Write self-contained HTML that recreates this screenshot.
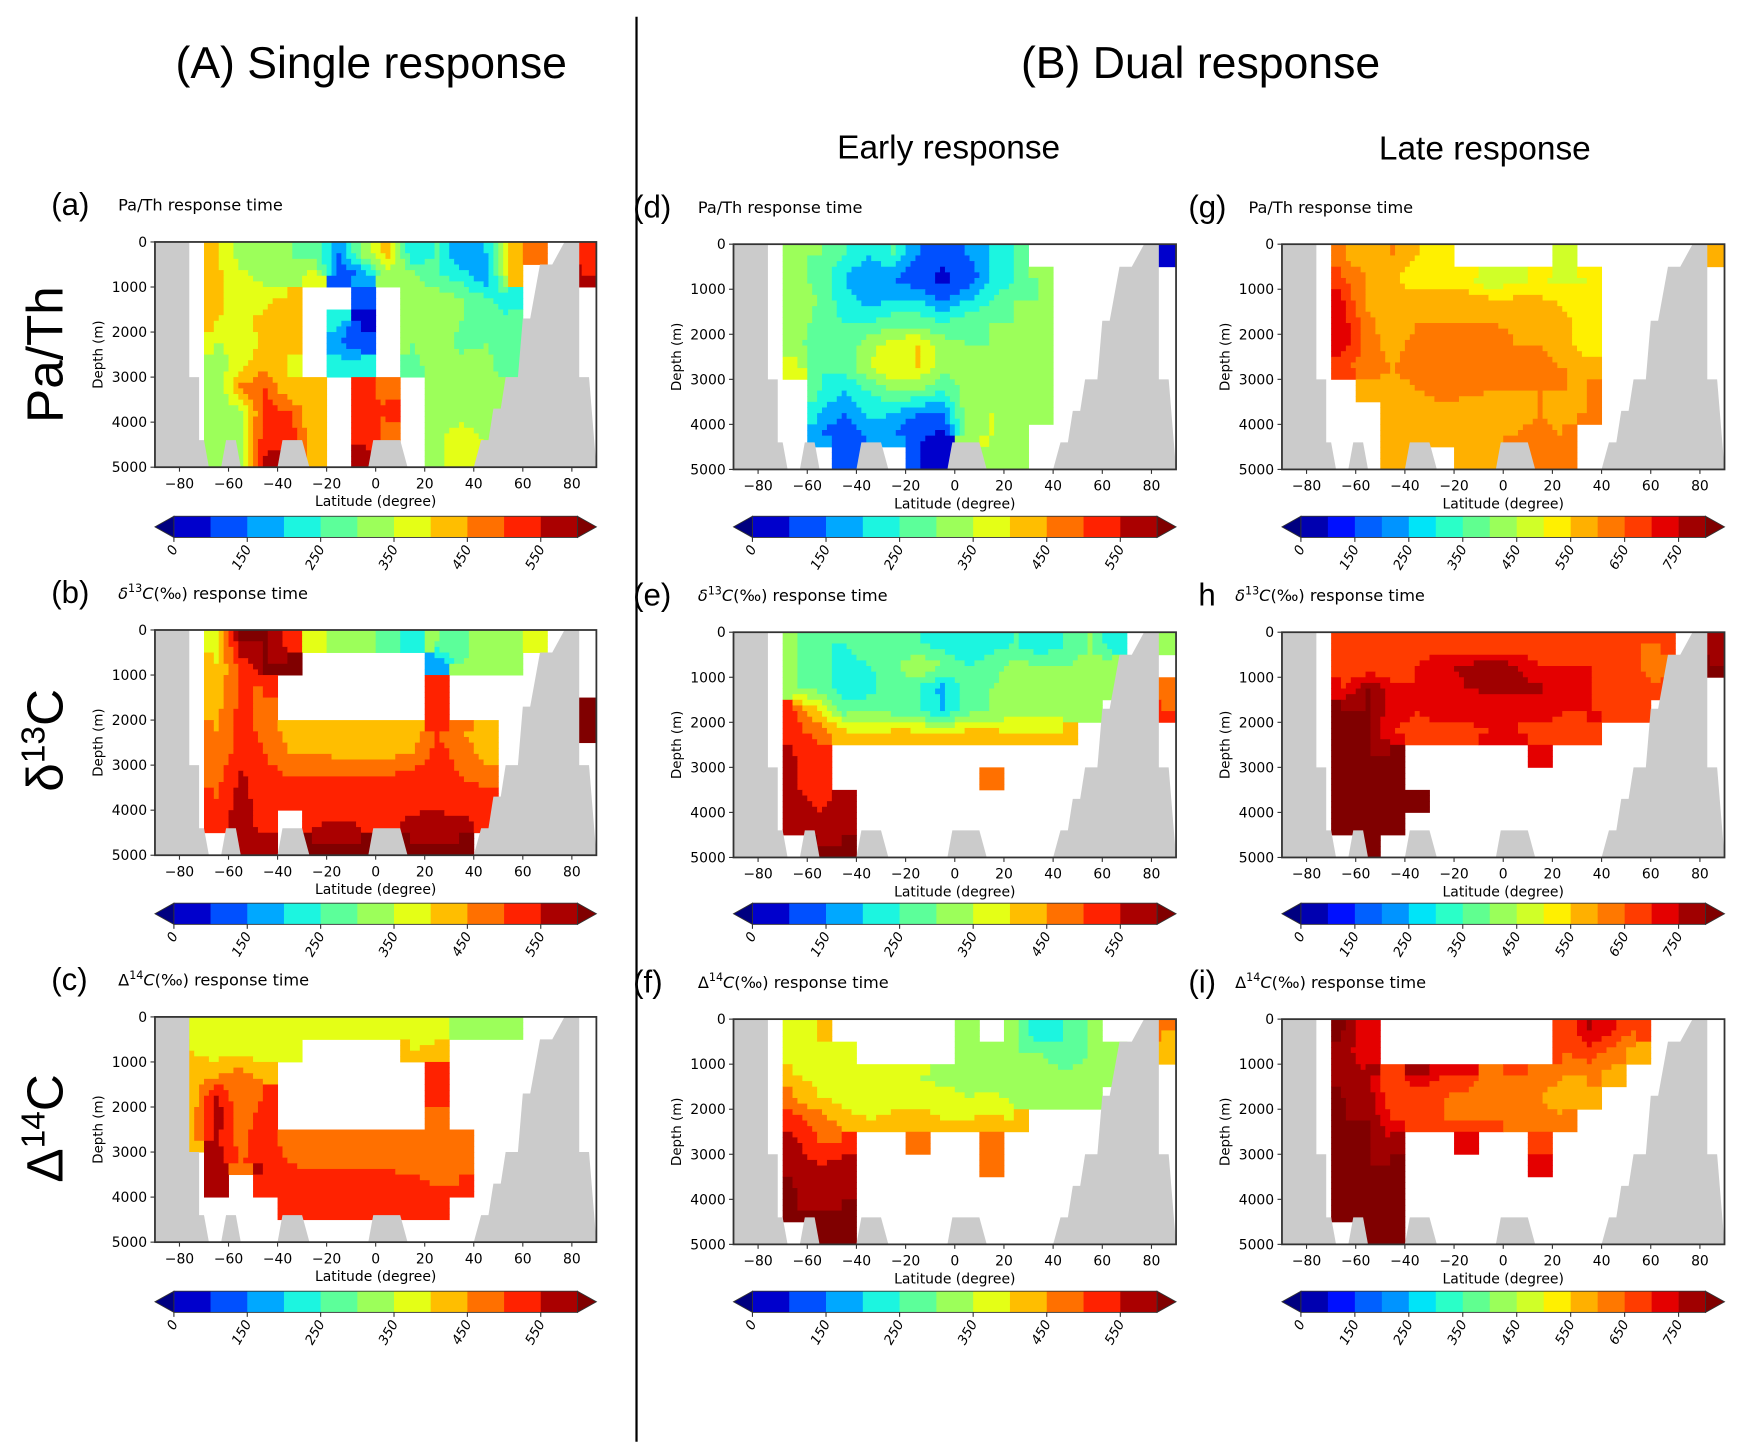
<!DOCTYPE html>
<html><head><meta charset="utf-8"><style>
html,body{margin:0;padding:0;background:#fff}
svg{display:block;font-family:"Liberation Sans","DejaVu Sans",sans-serif}
</style></head><body>
<svg id="fig" width="1739" height="1454" viewBox="0 0 1560 1304" preserveAspectRatio="none" xmlns="http://www.w3.org/2000/svg">
<rect width="1560" height="1304" fill="#fff"/>
<line x1="571" y1="15" x2="571" y2="1293" stroke="#000" stroke-width="2"/>
<text x="333" y="70" font-size="40" text-anchor="middle">(A) Single response</text>
<text x="1077" y="70" font-size="40" text-anchor="middle">(B) Dual response</text>
<text x="851" y="142" font-size="30" text-anchor="middle">Early response</text>
<text x="1332" y="143" font-size="30" text-anchor="middle">Late response</text>
<text transform="translate(56,318) rotate(-90)" font-size="46" text-anchor="middle">Pa/Th</text>
<text transform="translate(56,664) rotate(-90)" font-size="46" text-anchor="middle">δ<tspan font-size="30" dy="-16">13</tspan><tspan dy="16">C</tspan></text>
<text transform="translate(56,1012) rotate(-90)" font-size="46" text-anchor="middle">Δ<tspan font-size="30" dy="-16">14</tspan><tspan dy="16">C</tspan></text>
<g id="panels"></g>
</svg>
<script>
const latTicks=[-80,-60,-40,-20,0,20,40,60,80];
const depthTicks=[0,1000,2000,3000,4000,5000];
const levels550=[0,75,150,200,250,300,350,400,450,500,550,600];
const colors550=['#0000cc','#0050ff','#00a8ff','#1cf5e0','#5cff9a','#9cff5a','#e4ff16','#ffbe00','#ff7000','#ff2200','#aa0000'];
const ticks550=[0,150,250,350,450,550];
const levels750=[0,75,150,200,250,300,350,400,450,500,550,600,650,700,750,800];
const colors750=['#0000b0','#0010ff','#0060ff','#0094ff','#00e4f8','#2affc8','#60ff90','#9aff5a','#d0ff28','#fff000','#ffb000','#ff7800','#ff3c00','#e40000','#a00000'];
const ticks750=[0,150,250,350,450,550,650,750];
const W=-1;
const dataA=[[W,W,400,330,300,300,280,150,330,420,200,250,150,200,420,450,W,520],[W,W,420,360,330,300,380,100,150,330,320,260,220,150,400,W,W,550],[W,W,420,370,380,420,W,W,100,W,320,330,300,260,220,W,W,W],[W,W,400,380,420,440,W,220,60,W,320,340,300,260,260,W,W,W],[W,W,350,360,420,410,W,150,120,W,300,330,280,300,270,W,W,W],[W,W,320,380,440,390,W,230,230,W,280,330,330,320,250,W,W,W],[W,W,300,460,500,400,400,W,520,470,W,330,340,330,320,W,W,W],[W,W,300,340,520,500,400,W,520,500,W,330,320,330,320,W,W,W],[W,W,320,330,540,530,400,W,530,480,W,340,370,340,320,W,W,W],[W,W,320,330,550,560,400,W,580,480,W,340,380,360,330,W,W,W]];
const dataB=[[W,W,380,600,600,520,380,330,300,250,200,300,280,330,300,350,W,W],[W,W,400,520,600,600,W,W,W,W,W,150,300,320,330,W,W,W],[W,W,420,500,500,W,W,W,W,W,W,500,W,W,W,W,W,W],[W,W,430,520,480,W,W,W,W,W,W,520,W,W,W,W,W,600],[W,W,450,530,480,430,420,420,420,420,420,500,450,420,W,W,W,600],[W,W,450,530,500,450,450,440,440,440,450,520,480,430,W,W,W,W],[W,W,480,560,520,500,500,500,500,500,520,530,500,480,W,W,W,W],[W,W,500,570,520,530,520,520,520,520,530,540,520,520,W,W,W,W],[W,W,520,580,520,W,540,550,540,540,560,560,560,540,W,W,W,W],[W,W,W,580,560,W,600,600,600,W,600,600,600,W,W,W,W,W]];
const dataC=[[W,380,380,380,370,360,360,360,350,360,350,350,330,320,330,W,W,W],[W,400,380,380,370,380,W,W,W,W,400,430,W,W,W,W,W,W],[W,410,430,470,420,W,W,W,W,W,W,520,W,W,W,W,W,W],[W,420,560,450,500,W,W,W,W,W,W,500,W,W,W,W,W,W],[W,420,580,470,530,W,W,W,W,W,W,470,W,W,W,W,W,W],[W,430,560,480,540,460,470,480,480,480,470,460,450,W,W,W,W,W],[W,W,580,490,550,500,490,490,490,490,490,480,480,W,W,W,W,W],[W,W,560,W,540,520,520,520,520,520,510,500,500,W,W,W,W,W],[W,W,W,W,W,520,530,530,530,530,520,520,W,W,W,W,W,W],[W,W,W,W,W,W,W,W,W,W,W,W,W,W,W,W,W,W]];
const dataD=[[W,W,300,300,250,200,250,150,100,150,200,250,W,W,W,W,W,30],[W,W,320,280,200,150,150,100,50,100,200,250,300,W,W,W,W,W],[W,W,320,300,220,180,200,200,150,200,250,300,300,W,W,W,W,W],[W,W,330,280,250,250,280,280,250,280,300,300,330,W,W,W,W,W],[W,W,320,260,260,330,380,400,330,300,300,300,320,W,W,W,W,W],[W,W,380,250,260,350,400,400,320,300,320,300,300,W,W,W,W,W],[W,W,W,250,200,250,300,300,250,330,330,300,300,W,W,W,W,W],[W,W,W,200,150,220,200,150,150,330,350,320,320,W,W,W,W,W],[W,W,W,150,100,160,150,80,60,330,350,330,W,W,W,W,W,W],[W,W,W,W,100,150,W,80,30,W,330,330,W,W,W,W,W,W]];
const dataE=[[W,W,300,250,250,280,250,250,230,200,230,250,200,250,300,200,W,330],[W,W,300,270,230,250,280,350,300,250,280,320,300,300,320,330,W,W],[W,W,300,280,230,220,300,250,180,280,300,330,330,330,330,330,W,450],[W,W,500,400,280,300,280,250,200,280,300,330,330,330,330,W,W,500],[W,W,520,480,420,400,420,420,400,420,420,400,400,400,W,W,W,W],[W,W,550,520,W,W,W,W,W,W,W,W,W,W,W,W,W,W],[W,W,550,530,W,W,W,W,W,W,450,W,W,W,W,W,W,W],[W,W,560,540,560,W,W,W,W,W,W,W,W,W,W,W,W,W],[W,W,580,560,580,W,W,W,W,W,W,W,W,W,W,W,W,W],[W,W,W,600,600,W,W,W,W,W,W,W,W,W,W,W,W,W]];
const dataF=[[W,W,380,400,W,W,W,W,W,300,W,300,200,250,300,W,W,450],[W,W,380,380,380,W,W,W,W,300,320,300,300,250,300,300,W,420],[W,W,400,380,370,350,350,350,320,330,330,320,320,320,320,320,W,W],[W,W,450,400,380,370,370,380,380,350,360,330,330,330,330,W,W,W],[W,W,520,480,420,400,420,420,400,400,420,400,W,W,W,W,W,W],[W,W,560,500,500,W,W,450,W,W,450,W,W,W,W,W,W,W],[W,W,580,550,580,W,W,W,W,W,450,W,W,W,W,W,W,W],[W,W,600,560,580,W,W,W,W,W,W,W,W,W,W,W,W,W],[W,W,600,600,600,W,W,W,W,W,W,W,W,W,W,W,W,W],[W,W,W,600,600,W,W,W,W,W,W,W,W,W,W,W,W,W]];
const dataG=[[W,W,600,550,600,550,500,W,W,W,W,480,W,W,W,W,W,580],[W,W,650,600,560,520,500,500,450,480,500,480,500,W,W,W,W,W],[W,W,700,580,560,580,580,580,560,560,560,540,520,W,W,W,W,W],[W,W,720,620,560,600,600,600,600,580,580,560,520,W,W,W,W,W],[W,W,720,620,580,620,620,640,650,600,600,560,520,W,W,W,W,W],[W,W,660,620,600,620,650,650,640,620,620,600,580,W,W,W,W,W],[W,W,W,580,580,600,620,620,600,600,600,600,600,W,W,W,W,W],[W,W,W,W,580,560,580,560,560,580,600,560,600,W,W,W,W,W],[W,W,W,W,560,560,560,580,560,600,620,600,W,W,W,W,W,W],[W,W,W,W,560,550,W,560,560,W,620,620,W,W,W,W,W,W]];
const dataH=[[W,W,650,650,650,650,650,650,650,650,650,650,650,650,650,650,W,750],[W,W,650,650,650,700,750,760,780,760,700,700,700,700,650,600,W,800],[W,W,700,800,720,700,700,750,760,760,760,700,700,680,680,650,W,W],[W,W,800,800,720,700,720,720,720,700,720,700,700,680,650,W,W,W],[W,W,800,800,700,680,680,680,700,700,680,680,680,W,W,W,W,W],[W,W,800,800,800,W,W,W,W,W,700,W,W,W,W,W,W,W],[W,W,800,800,800,W,W,W,W,W,W,W,W,W,W,W,W,W],[W,W,800,800,800,800,W,W,W,W,W,W,W,W,W,W,W,W],[W,W,800,800,800,W,W,W,W,W,W,W,W,W,W,W,W,W],[W,W,W,800,W,W,W,W,W,W,W,W,W,W,W,W,W,W]];
const dataI=[[W,W,800,700,W,W,W,W,W,W,W,650,750,700,650,W,W,W],[W,W,780,700,W,W,W,W,W,W,W,650,680,620,560,W,W,W],[W,W,780,750,650,750,700,700,620,650,620,600,600,580,W,W,W,W],[W,W,800,780,650,650,650,620,600,620,600,580,560,W,W,W,W,W],[W,W,800,800,700,680,650,650,650,620,620,600,W,W,W,W,W,W],[W,W,800,800,750,W,W,700,W,W,650,W,W,W,W,W,W,W],[W,W,800,800,800,W,W,W,W,W,700,W,W,W,W,W,W,W],[W,W,800,800,800,W,W,W,W,W,W,W,W,W,W,W,W,W],[W,W,800,800,800,W,W,W,W,W,W,W,W,W,W,W,W,W],[W,W,W,800,800,W,W,W,W,W,W,W,W,W,W,W,W,W]];
const landLeft=[[-90,0],[-76,0],[-76,3000],[-72,3000],[-72,4400],[-70,4400],[-68,5000],[-90,5000]];
const land1=[[-63,5000],[-61,4400],[-57,4400],[-55,5000]];
const land2=[[-40,5000],[-38,4400],[-30,4400],[-27,5000]];
const land3=[[-3,5000],[-1,4400],[10,4400],[13,5000]];
const landRight=[[40,5000],[43,4400],[46,4400],[48,3700],[51,3700],[53,3000],[58,3000],[60,1700],[63,1700],[67,500],[72,500],[77,0],[83,0],[83,3000],[87,3000],[90,5000]];

const NS='http://www.w3.org/2000/svg';
const root=document.getElementById('panels');
function mk(tag,attrs,parent,txt){const e=document.createElementNS(NS,tag);for(const k in attrs)e.setAttribute(k,attrs[k]);if(txt!==undefined)e.textContent=txt;(parent||root).appendChild(e);return e;}

const panels=[
 {id:'a',letter:'(a)',title:'pa',data:dataA,x0:139,x1:535,y0:217,y1:419,cb:463,lx:46,tx:106,lv:levels550,cl:colors550,tk:ticks550},
 {id:'b',letter:'(b)',title:'d13',data:dataB,x0:139,x1:535,y0:565,y1:767,cb:810,lx:46,tx:106,lv:levels550,cl:colors550,tk:ticks550},
 {id:'c',letter:'(c)',title:'D14',data:dataC,x0:139,x1:535,y0:912,y1:1114,cb:1158,lx:46,tx:106,lv:levels550,cl:colors550,tk:ticks550},
 {id:'d',letter:'(d)',title:'pa',data:dataD,x0:658,x1:1055,y0:219,y1:421,cb:463,lx:568,tx:626,lv:levels550,cl:colors550,tk:ticks550},
 {id:'e',letter:'(e)',title:'d13',data:dataE,x0:658,x1:1055,y0:567,y1:769,cb:810,lx:568,tx:626,lv:levels550,cl:colors550,tk:ticks550},
 {id:'f',letter:'(f)',title:'D14',data:dataF,x0:658,x1:1055,y0:914,y1:1116,cb:1158,lx:568,tx:626,lv:levels550,cl:colors550,tk:ticks550},
 {id:'g',letter:'(g)',title:'pa',data:dataG,x0:1150,x1:1547,y0:219,y1:421,cb:463,lx:1066,tx:1120,lv:levels750,cl:colors750,tk:ticks750},
 {id:'h',letter:'h',title:'d13',data:dataH,x0:1150,x1:1547,y0:567,y1:769,cb:810,lx:1075,tx:1108,lv:levels750,cl:colors750,tk:ticks750},
 {id:'i',letter:'(i)',title:'D14',data:dataI,x0:1150,x1:1547,y0:914,y1:1116,cb:1158,lx:1066,tx:1108,lv:levels750,cl:colors750,tk:ticks750}
];

function colorFor(v,lv,cl){if(v<lv[0])return '#000080';for(let k=0;k<cl.length;k++){if(v<lv[k+1])return cl[k];}return '#800000';}

panels.forEach(p=>{
 const g=mk('g',{});
 
 
 const sx=lat=>p.x0+(lat+90)/180*(p.x1-p.x0);
 const sy=d=>p.y0+d/5000*(p.y1-p.y0);
 const lt=mk('text',{x:p.lx,y:p.y0-24,'font-size':28},g,p.letter);
 
 
 const tt=mk('text',{x:p.tx,y:p.y0-28,'font-size':14.5,'font-family':'DejaVu Sans, sans-serif'},g);
 
 
 if(p.title==='pa'){tt.textContent='Pa/Th response time';}
 else{
  const sym=p.title==='d13'?'δ':'Δ';const iso=p.title==='d13'?'13':'14';
  mk('tspan',{'font-style':p.title==='d13'?'italic':'normal'},tt,sym);
  mk('tspan',{'font-size':10,dy:-6},tt,iso);
  mk('tspan',{dy:6,'font-style':'italic'},tt,'C');
  mk('tspan',{},tt,'(‰) response time');
 }
 const cid='clip'+p.id;
 const cp=mk('clipPath',{id:cid},g);mk('rect',{x:p.x0,y:p.y0,width:p.x1-p.x0,height:p.y1-p.y0},cp);
 const field=mk('g',{'clip-path':'url(#'+cid+')'},g);
 
 
 const D=p.data,nr=D.length,nc=D[0].length;
 const dLat=2,dDep=125;
 for(let r=0;r<5000/dDep;r++){
  const dep=r*dDep+dDep/2;
  let runStart=null,runCol=null;
  const flush=(endLat)=>{if(runCol&&runCol!=='none'){const rc=mk('rect',{x:sx(runStart),y:sy(r*dDep),width:sx(endLat)-sx(runStart)+0.4,height:sy(dDep)-sy(0)+0.4,fill:runCol},field);}};
  for(let c=0;c<180/dLat;c++){
   const lat=-90+c*dLat+dLat/2;
   let fx=(lat+85)/10,fy=(dep-250)/500;
   fx=Math.max(0,Math.min(nc-1,fx));fy=Math.max(0,Math.min(nr-1,fy));
   const i0=Math.floor(fy),j0=Math.floor(fx),i1=Math.min(nr-1,i0+1),j1=Math.min(nc-1,j0+1);
   const ty=fy-i0,tx=fx-j0;
   const a=D[i0][j0],b=D[i0][j1],cc=D[i1][j0],dd=D[i1][j1];
   let v;
   if(a<0||b<0||cc<0||dd<0){const ni=Math.round(fy),nj=Math.round(fx);v=D[ni][nj];}
   else{v=(a*(1-tx)+b*tx)*(1-ty)+(cc*(1-tx)+dd*tx)*ty;}
   const col=v<0?'none':colorFor(v,p.lv,p.cl);
   if(col!==runCol){flush(-90+c*dLat);runStart=-90+c*dLat;runCol=col;}
  }
  flush(90);
 }
 [landLeft,land1,land2,land3,landRight].forEach(poly=>{
  const pg=mk('polygon',{points:poly.map(q=>sx(q[0])+','+sy(q[1])).join(' '),fill:'#cbcbcb'},field);
  
  
 });
 const fr=mk('rect',{x:p.x0,y:p.y0,width:p.x1-p.x0,height:p.y1-p.y0,fill:'none',stroke:'#333','stroke-width':1.6},g);
 
 
 latTicks.forEach(t=>{
  mk('line',{x1:sx(t),x2:sx(t),y1:p.y1,y2:p.y1+4,stroke:'#333'},g);
  const tl=mk('text',{x:sx(t),y:p.y1+19,'font-size':12.5,'text-anchor':'middle','font-family':'DejaVu Sans, sans-serif'},g,(t<0?'−':'')+Math.abs(t));
  
  
 });
 depthTicks.forEach(t=>{
  mk('line',{x1:p.x0-4,x2:p.x0,y1:sy(t),y2:sy(t),stroke:'#333'},g);
  const tl=mk('text',{x:p.x0-7,y:sy(t)+4.5,'font-size':12.5,'text-anchor':'end','font-family':'DejaVu Sans, sans-serif'},g,String(t));
  
  
 });
 const xl=mk('text',{x:(p.x0+p.x1)/2,y:p.y1+35,'font-size':12.5,'text-anchor':'middle','font-family':'DejaVu Sans, sans-serif'},g,'Latitude (degree)');
 
 
 const yl=mk('text',{transform:'translate('+(p.x0-47)+','+((p.y0+p.y1)/2)+') rotate(-90)','font-size':12,'text-anchor':'middle','font-family':'DejaVu Sans, sans-serif'},g,'Depth (m)');
 
 
 const cbg=mk('g',{},g);
 
 
 const bL=p.x0+17,bR=p.x1-17,cy0=p.cb,cy1=p.cb+19,nb=p.cl.length,bw=(bR-bL)/nb;
 mk('polygon',{points:`${p.x0},${(cy0+cy1)/2} ${bL},${cy0} ${bL},${cy1}`,fill:'#000080',stroke:'#333','stroke-width':0.8},cbg);
 mk('polygon',{points:`${p.x1},${(cy0+cy1)/2} ${bR},${cy0} ${bR},${cy1}`,fill:'#800000',stroke:'#333','stroke-width':0.8},cbg);
 p.cl.forEach((c,k)=>{const r=mk('rect',{x:bL+k*bw,y:cy0,width:bw+0.3,height:cy1-cy0,fill:c},cbg);});
 mk('rect',{x:bL,y:cy0,width:bR-bL,height:cy1-cy0,fill:'none',stroke:'#333','stroke-width':0.8},cbg);
 p.tk.forEach(t=>{
  const k=p.lv.indexOf(t);const x=bL+k*bw;
  mk('line',{x1:x,x2:x,y1:cy1,y2:cy1+4,stroke:'#333'},cbg);
  const tl=mk('text',{transform:`translate(${x+4},${cy1+10}) rotate(-60)`,'font-size':12,'text-anchor':'end','font-style':'italic','font-family':'DejaVu Sans, sans-serif'},cbg,String(t));
  
  
 });
});
</script>
</body></html>
